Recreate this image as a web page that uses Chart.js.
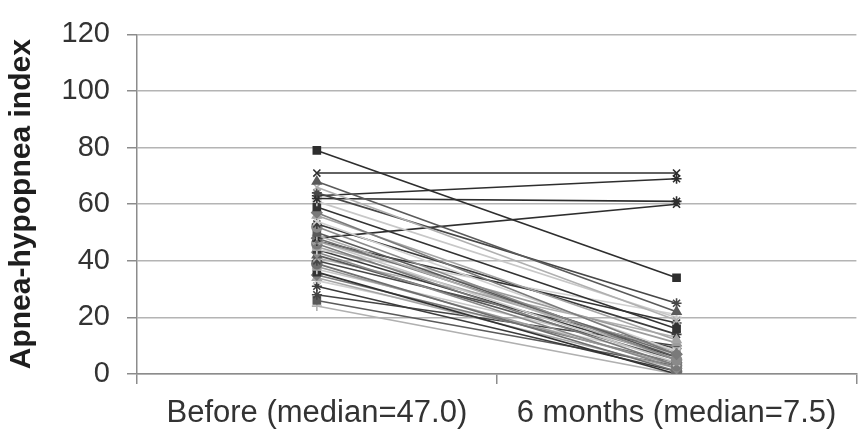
<!DOCTYPE html>
<html>
<head>
<meta charset="utf-8">
<script src="https://cdn.jsdelivr.net/npm/chart.js@4"></script>
<style>
  html, body { margin: 0; padding: 0; background: #ffffff; }
  #wrap { width: 863px; height: 434px; }
</style>
</head>
<body>
<div id="wrap"><canvas id="c" width="863" height="434"></canvas></div>
<script>
// Categories (x axis)
const categories = ["Before (median=47.0)", "6 months (median=7.5)"];

// Apnea-hypopnea index per patient, before treatment
const beforeAHI = [79, 71, 68, 66, 64, 63, 62, 61, 59, 57,
                   56, 54, 53, 52, 50, 49, 48, 48, 47, 47,
                   47, 46, 45, 44, 44, 43, 42, 41, 40, 39,
                   38, 37, 36, 35, 34, 33, 31, 28, 26, 24];

// Apnea-hypopnea index per patient, at 6 months
const sixMonthAHI = [34, 71, 22, 19, 25, 69, 61, 20, 16, 7,
                     12, 8, 14, 5, 6, 5, 60, 7, 11, 4,
                     18, 3, 8, 21, 6, 2, 5, 13, 9, 1,
                     3, 7, 0, 4, 2, 6, 1, 10, 3, 0];

// Y axis tick values
const yTicks = [0, 20, 40, 60, 80, 100, 120];
const yTitle = "Apnea-hypopnea index";

// Styles (separate from data)
const shades = ["#3c3c3c", "#8a8a8a", "#5a5a5a", "#b0b0b0", "#474747", "#6e6e6e",
                "#9c9c9c", "#c8c8c8", "#333333", "#7a7a7a", "#a5a5a5", "#d0d0d0"];
const markers = ["rect", "rectRot", "triangle", "crossRot", "star", "circle", "rect", "cross"];

const datasets = beforeAHI.map((b, i) => {
  const col = shades[i % shades.length];
  return {
    label: "P" + (i + 1),
    data: [b, sixMonthAHI[i]],
    borderColor: col,
    backgroundColor: col,
    borderWidth: 1.6,
    pointStyle: markers[i % markers.length],
    pointRadius: 5,
    pointBorderWidth: 1.6,
    fill: false,
    tension: 0
  };
});
// a few prominent dark series as seen in the figure
[0, 1, 5, 6, 16].forEach(k => {
  datasets[k].borderColor = "#2e2e2e";
  datasets[k].backgroundColor = "#2e2e2e";
});
datasets[0].pointStyle = "rect";
datasets[1].pointStyle = "crossRot";
datasets[5].pointStyle = "star";
datasets[6].pointStyle = "star";
datasets[16].pointStyle = "crossRot";
datasets[37].pointStyle = "star";
datasets[37].borderColor = "#444444";
datasets[37].backgroundColor = "#444444";

const FONT = "'Liberation Sans', Arial, Helvetica, sans-serif";

new Chart(document.getElementById("c"), {
  type: "line",
  data: { labels: categories, datasets: datasets },
  options: {
    responsive: false,
    animation: false,
    devicePixelRatio: 1,
    layout: { padding: { top: 30, right: 1, left: 0, bottom: 0 } },
    plugins: {
      legend: { display: false },
      tooltip: { enabled: false }
    },
    scales: {
      x: {
        type: "category",
        offset: true,
        grid: {
          offset: true,
          drawOnChartArea: false,
          drawTicks: true,
          tickLength: 10,
          color: "#8c8c8c",
          lineWidth: 1.5
        },
        border: { display: true, color: "#8c8c8c", width: 1.5 },
        ticks: {
          color: "#333333",
          font: { family: FONT, size: 31 },
          padding: 11,
          maxRotation: 0,
          autoSkip: false
        },
        afterFit: (s) => { s.height = 60; }
      },
      y: {
        min: 0,
        max: 120,
        afterBuildTicks: (s) => { s.ticks = yTicks.map(v => ({ value: v })); },
        grid: {
          color: "#b4b4b4",
          lineWidth: 1.5,
          drawTicks: true,
          tickLength: 10,
          tickColor: "#8c8c8c"
        },
        border: { display: true, color: "#8c8c8c", width: 1.5 },
        ticks: {
          color: "#333333",
          font: { family: FONT, size: 29 },
          padding: 17
        },
        title: {
          display: true,
          text: yTitle,
          color: "#1e1e1e",
          font: { family: FONT, size: 30, weight: "bold" },
          padding: { top: 4, bottom: 0 }
        },
        afterFit: (s) => { s.width = 137; }
      }
    }
  }
});
</script>
</body>
</html>
